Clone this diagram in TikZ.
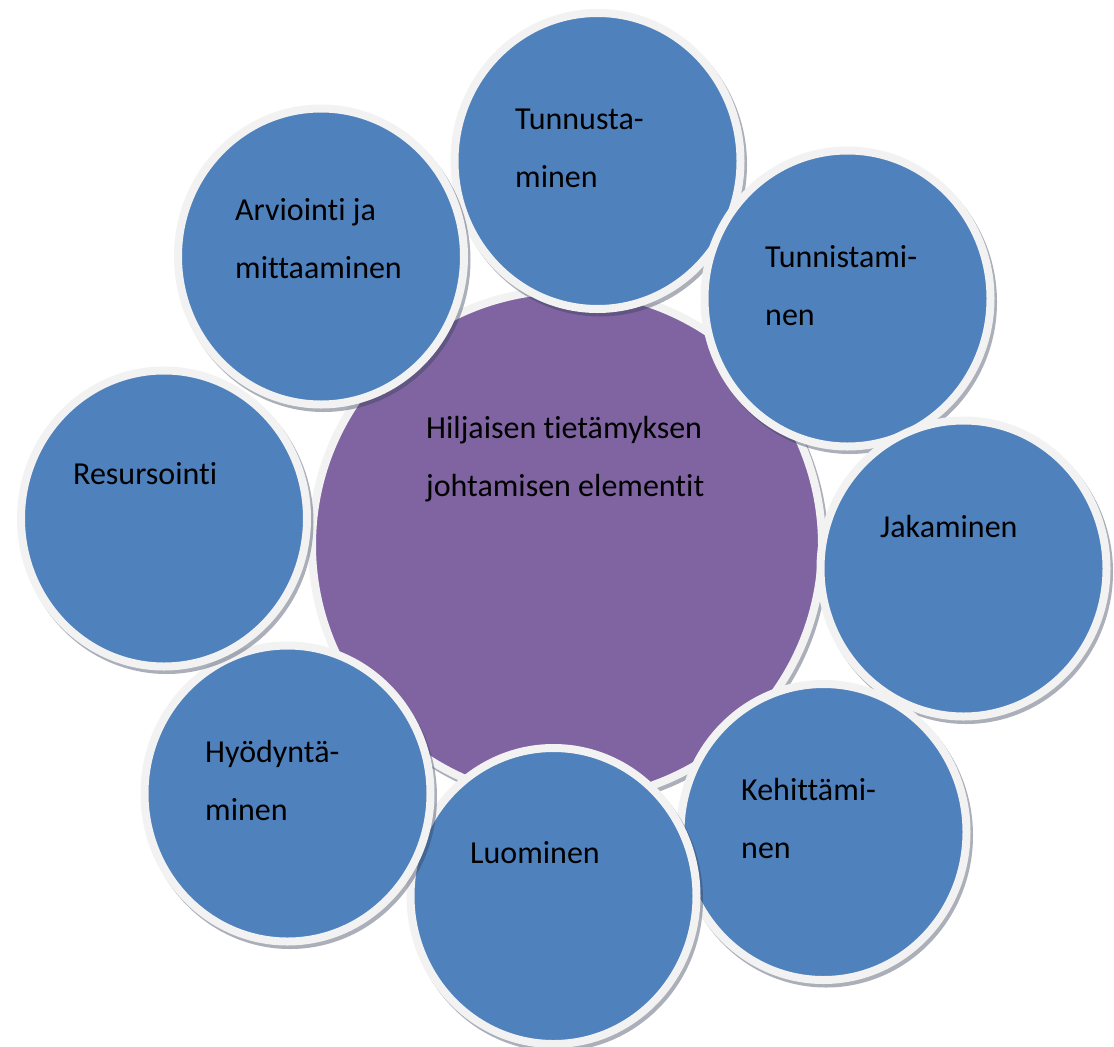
\documentclass[tikz,border=0pt]{standalone}
\usepackage{fontspec}
\setmainfont[Ligatures=NoCommon]{Carlito}
\definecolor{petalblue}{HTML}{4F81BD}
\definecolor{hubpurple}{HTML}{8064A2}
\definecolor{ringgrey}{HTML}{F2F2F2}
\definecolor{shadowc}{RGB}{55,65,90}
\usetikzlibrary{calc,shapes.geometric}
\tikzset{
  ringed/.style={draw=ringgrey, line width=8pt, inner sep=0pt},
  hub/.style={ringed, circle, fill=hubpurple, minimum size=510pt},
  petal/.style={ringed, ellipse, fill=petalblue,
    minimum width=286pt, minimum height=296pt},
  castshadow/.style={fill=shadowc, fill opacity=0.42},
  caption/.style={anchor=base west, inner sep=0pt, align=left,
    font={\fontsize{32}{58}\selectfont}, text=black},
}
% a petal: its shadow first, then the ringed disc on top
\newcommand\petalnode[2]{%
  \fill[castshadow] ($(#2)+(2.5,3.5)$) ellipse [x radius=147, y radius=152];
  \node[petal] (#1) at (#2) {};
}
\begin{document}
\begin{tikzpicture}[x=1pt,y=-1pt]
\useasboundingbox (0,0) rectangle (1114,1047);
\fill[white] (0,0) rectangle (1114,1047);

% central hub
\fill[castshadow] (569.5,548.5) circle (259);
\node[hub] (hub) at (567,545) {};

% petals, clockwise from the top
\petalnode{tunnustaminen}{597.5,161}
\petalnode{tunnistaminen}{847.5,298.5}
\petalnode{jakaminen}{963.5,568.5}
\petalnode{kehittaminen}{823.5,832}
\petalnode{luominen}{553.5,896}
\petalnode{hyodyntaminen}{287.5,793.5}
\petalnode{resursointi}{164,518.5}
\petalnode{arviointi}{321,256.5}

% labels (anchored at the baseline of their last line)
\node[caption] (thub) at (426,496) {Hiljaisen tietämyksen\\johtamisen elementit};
\node[caption] (t1) at (515,187) {Tunnusta-\\minen};
\node[caption] (t2) at (765,325) {Tunnistami-\\nen};
\node[caption] (t3) at (880,537) {Jakaminen};
\node[caption] (t4) at (741,858) {Kehittämi-\\nen};
\node[caption] (t5) at (470,863) {Luominen};
\node[caption] (t6) at (205,820) {Hyödyntä-\\minen};
\node[caption] (t7) at (73,484) {Resursointi};
\node[caption] (t8) at (235,278) {Arviointi ja\\mittaaminen};
\end{tikzpicture}
\end{document}
